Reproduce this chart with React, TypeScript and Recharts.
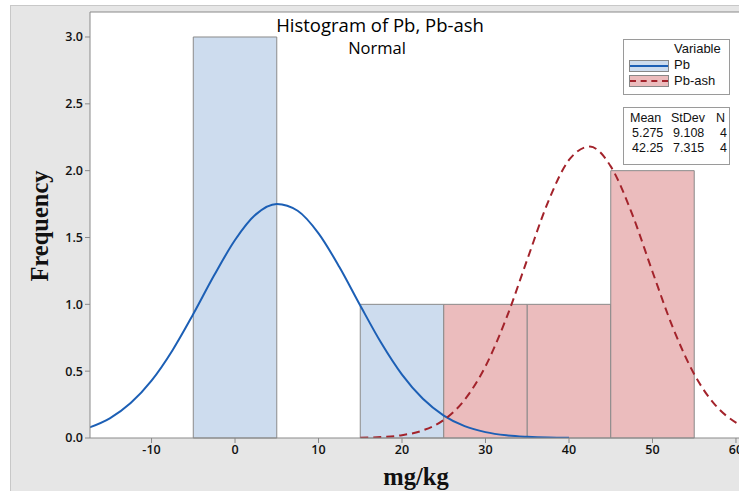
import { ComposedChart, Line, XAxis, YAxis, ReferenceArea, ReferenceLine, CartesianGrid } from 'recharts'

// histogram bins (bin start, width 10)
const BIN_WIDTH = 10
const pbBinStart = [-5, 15]
const pbCounts = [3, 1]
const ashBinStart = [25, 35, 45]
const ashCounts = [1, 1, 2]

// fitted normal curves
const pbCurveX = [-17.5, -15, -12.5, -10, -7.5, -5, -2.5, 0, 2.5, 5, 7.5, 10, 12.5, 15, 17.5, 20, 22.5, 25, 27.5, 30, 32.5, 35, 37.5, 40]
const pbCurveY = [0.077, 0.147, 0.261, 0.429, 0.655, 0.927, 1.217, 1.481, 1.673, 1.751, 1.7, 1.531, 1.279, 0.991, 0.712, 0.474, 0.293, 0.168, 0.089, 0.044, 0.02, 0.009, 0.003, 0.001]
const ashCurveX = [15, 17.5, 20, 22.5, 25, 27.5, 30, 32.5, 35, 37.5, 40, 42.5, 45, 47.5, 50, 52.5, 55, 57.5, 60, 62.5]
const ashCurveY = [0.002, 0.007, 0.021, 0.057, 0.135, 0.286, 0.537, 0.897, 1.335, 1.767, 2.08, 2.18, 2.032, 1.686, 1.244, 0.817, 0.477, 0.248, 0.115, 0.047]

const xTicks = [-10, 0, 10, 20, 30, 40, 50, 60]
const yTicks = [0, 0.5, 1, 1.5, 2, 2.5, 3]

const statHeaders = ['Mean', 'StDev', 'N']
const stats = [
  ['5.275', '9.108', '4'],
  ['42.25', '7.315', '4'],
]

const X_MIN = -17.37
const X_MAX = 61.68
const Y_MAX = 3.187

const BLUE = '#1c5fb5'
const RED = '#a3232b'
const BLUE_FILL = '#cddcee'
const RED_FILL = '#ebbcbd'
const GRID = '#8a8a8a'
const SANS = '"Open Sans", "Noto Sans", sans-serif'
const BOX_FONT = '"Liberation Sans", Arial, sans-serif'

const pbCurve = pbCurveX.map((x, i) => ({ x, y: pbCurveY[i] }))
const ashCurve = ashCurveX.map((x, i) => ({ x, y: ashCurveY[i] }))

const headerLeft = [6, 47, 92]
const cellLeft = [8, 49, 96]

export default function App() {
  const tickStyle = { fontSize: 12.5, fill: '#111', fontFamily: SANS, fontWeight: 600 }
  return (
    <div style={{ position: 'absolute', left: 0, top: 0, width: 739, height: 491, overflow: 'hidden', background: '#fff' }}>
      <div style={{ position: 'absolute', left: 10, top: 5, width: 740, height: 500, background: '#e6e6e6', borderTop: '1px solid #c8c8c8', borderLeft: '1px solid #c8c8c8' }} />
      <div style={{ position: 'absolute', left: 0, top: 0 }}>
        <ComposedChart width={760} height={491} margin={{ top: 12, right: 10, left: 0, bottom: 0 }}>
          <CartesianGrid fill="#fff" horizontal={false} vertical={false} />
          {pbBinStart.map((s, i) => (
            <ReferenceArea key={'pb' + i} x1={s} x2={s + BIN_WIDTH} y1={0} y2={pbCounts[i]} fill={BLUE_FILL} fillOpacity={1} stroke={GRID} strokeWidth={1} />
          ))}
          {ashBinStart.map((s, i) => (
            <ReferenceArea key={'ash' + i} x1={s} x2={s + BIN_WIDTH} y1={0} y2={ashCounts[i]} fill={RED_FILL} fillOpacity={1} stroke={GRID} strokeWidth={1} />
          ))}
          <ReferenceLine y={Y_MAX} stroke={GRID} />
          <XAxis type="number" dataKey="x" domain={[X_MIN, X_MAX]} ticks={xTicks} allowDataOverflow height={53}
            stroke={GRID} tick={tickStyle} tickSize={5} interval={0} />
          <YAxis type="number" domain={[0, Y_MAX]} ticks={yTicks} allowDataOverflow width={90}
            stroke={GRID} tick={tickStyle} tickSize={5} tickFormatter={(v: number) => v.toFixed(1)} />
          <Line data={pbCurve} dataKey="y" type="monotone" dot={false} stroke={BLUE} strokeWidth={2} isAnimationActive={false} />
          <Line data={ashCurve} dataKey="y" type="monotone" dot={false} stroke={RED} strokeWidth={2} strokeDasharray="8 5" isAnimationActive={false} />
        </ComposedChart>
      </div>

      <div style={{ position: 'absolute', left: 230, width: 300, top: 14, textAlign: 'center', fontFamily: SANS, fontSize: 18.5, color: '#000', lineHeight: '22px' }}>
        Histogram of Pb, Pb-ash
        <div style={{ fontSize: 16.5, lineHeight: '24px', marginLeft: -6 }}>Normal</div>
      </div>

      <div style={{ position: 'absolute', left: 40, top: 226, transform: 'translate(-50%, -50%) rotate(-90deg)', fontFamily: '"Liberation Serif", serif', fontWeight: 'bold', fontSize: 24.5, color: '#111', whiteSpace: 'nowrap' }}>
        Frequency
      </div>
      <div style={{ position: 'absolute', left: 416, top: 477, transform: 'translate(-50%, -50%)', fontFamily: '"Liberation Serif", serif', fontWeight: 'bold', fontSize: 24.5, color: '#111', whiteSpace: 'nowrap' }}>
        mg/kg
      </div>

      {/* legend */}
      <div style={{ position: 'absolute', left: 623, top: 39, width: 105, height: 54, background: '#fff', border: '1px solid #9a9a9a', fontFamily: BOX_FONT, fontSize: 13, lineHeight: '15px', color: '#111' }}>
        <div style={{ position: 'absolute', left: 50, top: 1 }}>Variable</div>
        <div style={{ position: 'absolute', left: 5, top: 20, width: 38, height: 10, background: BLUE_FILL, border: '1px solid #888' }}>
          <div style={{ position: 'absolute', left: 0, right: 0, top: 4, borderTop: `2px solid ${BLUE}` }} />
        </div>
        <div style={{ position: 'absolute', left: 50, top: 17 }}>Pb</div>
        <div style={{ position: 'absolute', left: 5, top: 35, width: 38, height: 10, background: RED_FILL, border: '1px solid #888' }}>
          <div style={{ position: 'absolute', left: 0, right: 0, top: 4, borderTop: `2px dashed ${RED}` }} />
        </div>
        <div style={{ position: 'absolute', left: 50, top: 33 }}>Pb-ash</div>
      </div>

      <div style={{ position: 'absolute', left: 623, top: 107, width: 105, height: 56, background: '#fff', border: '1px solid #9a9a9a', fontFamily: BOX_FONT, fontSize: 12.5, lineHeight: '14px', color: '#111' }}>
        {statHeaders.map((h, j) => (
          <span key={h} style={{ position: 'absolute', left: headerLeft[j], top: 3 }}>{h}</span>
        ))}
        {stats.map((row, i) =>
          row.map((v, j) => (
            <span key={i + '-' + j} style={{ position: 'absolute', left: cellLeft[j], top: 18 + i * 15 }}>{v}</span>
          ))
        )}
      </div>
    </div>
  )
}
